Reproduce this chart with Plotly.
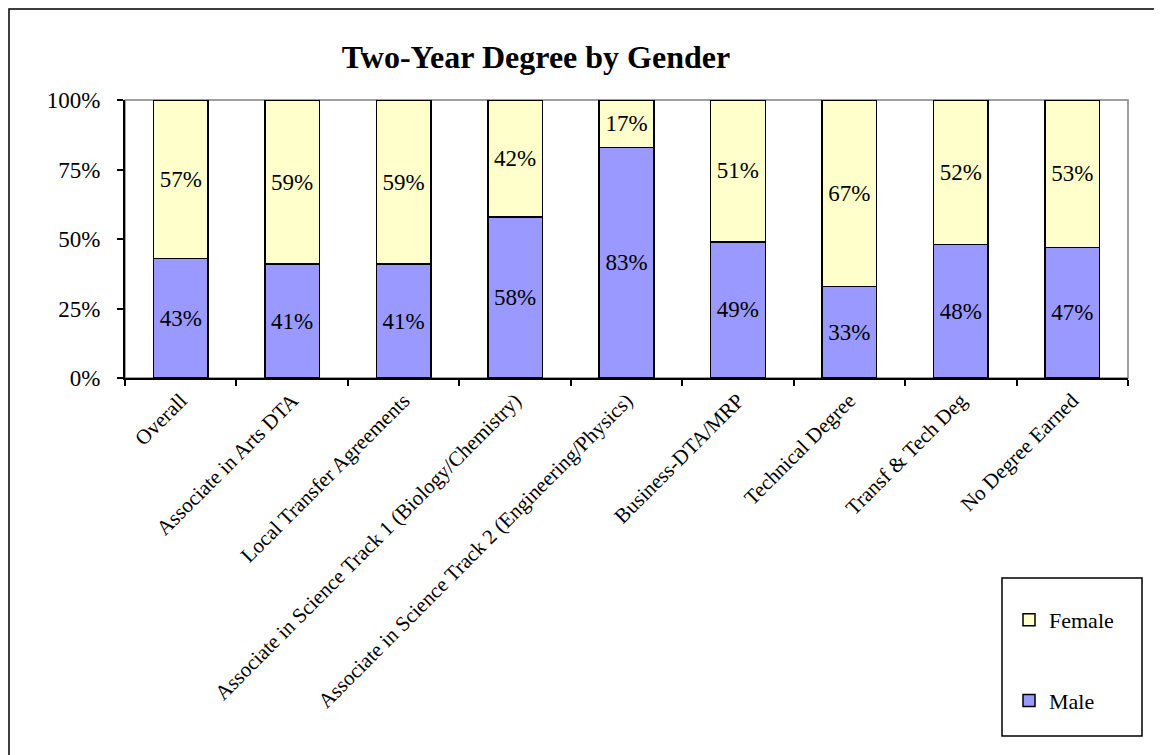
import plotly.graph_objects as go

categories = [
    "Overall",
    "Associate in Arts DTA",
    "Local Transfer Agreements",
    "Associate in Science Track 1 (Biology/Chemistry)",
    "Associate in Science Track 2 (Engineering/Physics)",
    "Business-DTA/MRP",
    "Technical Degree",
    "Transf & Tech Deg",
    "No Degree Earned",
]
male = [43, 41, 41, 58, 83, 49, 33, 48, 47]
female = [57, 59, 59, 42, 17, 51, 67, 52, 53]
y_ticks = [0, 25, 50, 75, 100]
y_tick_labels = ["0%", "25%", "50%", "75%", "100%"]

# page has an 8px body margin, so the figure is a bit smaller than the window
OFF = 8
W, H = 1162 - OFF, 755 - OFF
L, R, T, B = 117, 34, 92, 377
pw, ph = W - L - R, H - T - B


def px_x(x):
    # page pixel -> paper x
    return (x - OFF - L) / pw


def px_y(y):
    # page pixel -> paper y
    return (OFF + T + ph - y) / ph


serif = "Liberation Serif, Times New Roman, serif"

fig = go.Figure()
fig.add_trace(go.Bar(
    x=categories, y=male, name="Male",
    marker=dict(color="#9999FF", line=dict(color="black", width=1.5)),
    text=[f"{v}%" for v in male], textposition="inside",
    insidetextanchor="middle", constraintext="none",
    textfont=dict(family=serif, size=23, color="black"),
    legendgroup="m", legendrank=2,
))
fig.add_trace(go.Bar(
    x=categories, y=female, name="Female",
    marker=dict(color="#FFFFCC", line=dict(color="black", width=1.5)),
    text=[f"{v}%" for v in female], textposition="inside",
    insidetextanchor="middle", constraintext="none",
    textfont=dict(family=serif, size=23, color="black"),
    legendgroup="f", legendrank=1,
))

fig.update_layout(
    barmode="stack",
    bargap=0.51,
    width=W, height=H,
    margin=dict(l=L, r=R, t=T, b=B),
    plot_bgcolor="white",
    paper_bgcolor="white",
    font=dict(family=serif, size=21, color="black"),
    title=dict(
        text="<b>Two-Year Degree by Gender</b>",
        font=dict(family=serif, size=32, color="black"),
        x=px_x(536), xref="paper", xanchor="center",
        y=1 - (57 - OFF) / H, yanchor="middle",
    ),
    legend=dict(
        x=px_x(1009), y=px_y(599), xanchor="left", yanchor="top",
        traceorder="grouped", tracegroupgap=49,
        font=dict(family=serif, size=22),
        bgcolor="rgba(0,0,0,0)",
        itemwidth=30,
    ),
    showlegend=True,
    shapes=[
        # gray plot-area frame (top and right)
        dict(type="rect", xref="paper", yref="paper", x0=0, x1=1, y0=0, y1=1,
             line=dict(color="#808080", width=1.5), layer="below"),
        # legend box
        dict(type="rect", xref="paper", yref="paper",
             x0=px_x(1002), x1=px_x(1142), y0=px_y(578), y1=px_y(736),
             line=dict(color="black", width=1.5)),
        # outer chart border
        dict(type="rect", xref="paper", yref="paper",
             x0=px_x(9), x1=px_x(1190), y0=px_y(9), y1=px_y(780),
             line=dict(color="black", width=1.5)),
    ],
)

fig.update_xaxes(
    tickangle=-45,
    tickson="boundaries",
    ticks="outside", ticklen=6, tickcolor="black", tickwidth=1.5,
    showline=True, linecolor="black", linewidth=2,
    showgrid=False,
    tickfont=dict(family=serif, size=21),
)
fig.update_yaxes(
    range=[0, 100],
    tickvals=y_ticks, ticktext=y_tick_labels,
    ticks="outside", ticklen=6, tickcolor="black", tickwidth=1.5,
    ticklabelstandoff=12,
    showline=True, linecolor="black", linewidth=2,
    showgrid=False, zeroline=False,
    tickfont=dict(family=serif, size=23),
)

fig.write_html("out.html")
